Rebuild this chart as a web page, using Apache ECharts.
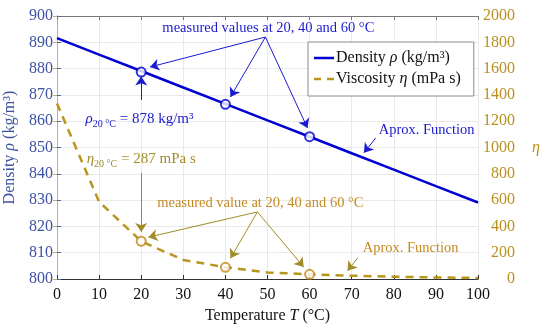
<!DOCTYPE html>
<html><head><meta charset="utf-8">
<script src="https://cdn.jsdelivr.net/npm/echarts@6/dist/echarts.min.js"></script>
<style>html,body{margin:0;padding:0;background:#fff}#c{width:550px;height:326px}</style>
</head><body><div id="c"></div>
<script>
const temps = [0, 10, 20, 30, 40, 50, 60, 70, 80, 90, 100];
const density = [891.6, 885.3, 879.1, 872.8, 866.6, 860.3, 854.1, 847.8, 841.6, 835.3, 829.1];
const viscosity = [1335, 587, 287, 145, 89, 50, 36, 25, 17, 12, 8];
const measuredT = [20, 40, 60];
const measuredDensity = [878.7, 866.4, 854.1];
const measuredViscosity = [287, 89, 36];
const xTicks = [0, 100, 10];
const densTicks = [800, 900, 10];
const viscTicks = [0, 2000, 200];

const FONT = '"Liberation Serif", "DejaVu Serif", serif';
const BLUE = '#0000d2';
const GOLD = '#b8961e';
const GOLDTXT = '#c58a22';
const GOLDDARK = '#a08c28';
const AXBLUE = '#3d52a3';
const AXGOLD = '#b8901e';

const chart = echarts.init(document.getElementById('c'));
const richBase = (col) => ({
  n: {fontFamily: FONT, fontSize: 15, color: col},
  i: {fontFamily: FONT, fontSize: 15, fontStyle: 'italic', color: col},
  s: {fontFamily: FONT, fontSize: 10, color: col, padding: [11, 0, 0, 0]}
});
function txt(coord, text, col, rich) {
  return {coord: coord, value: 0, symbol: 'circle', symbolSize: 1,
    itemStyle: {color: 'rgba(0,0,0,0)'},
    label: {show: true, position: 'inside', formatter: text, color: col,
      fontFamily: FONT, fontSize: 14.5, rich: rich || richBase(col)}};
}
function arrow(a, b) { return [{coord: a}, {coord: b}]; }

chart.setOption({
  animation: false,
  backgroundColor: '#fff',
  grid: {left: 57, right: 72, top: 16, bottom: 47, containLabel: false, outerBoundsMode: 'none'},
  legend: {
    data: [
      {name: 'Density', icon: 'path://M0,0H20V2.5H0Z', itemStyle: {color: BLUE}},
      {name: 'Viscosity', icon: 'path://M0,0H7V2.5H0Z M13,0H20V2.5H13Z', itemStyle: {color: GOLD}}
    ],
    orient: 'vertical', left: 308, top: 42,
    backgroundColor: '#fff', borderColor: '#8a8a8a', borderWidth: 1,
    padding: [8, 13, 9, 6], itemGap: 5, itemWidth: 20, itemHeight: 2.5,
    formatter: function (n) {
      return n === 'Density' ? '{n|Density }{i|ρ}{n| (kg/m³)}' : '{n|Viscosity }{i|η}{n| (mPa s)}';
    },
    textStyle: {fontFamily: FONT, fontSize: 16, color: '#111', padding: [0, 0, 0, -3],
      rich: {n: {fontFamily: FONT, fontSize: 16, color: '#111'},
             i: {fontFamily: FONT, fontSize: 16, fontStyle: 'italic', color: '#111'}}}
  },
  xAxis: [{
    type: 'value', min: xTicks[0], max: xTicks[1], interval: xTicks[2],
    name: '{n|Temperature }{i|T}{n| (°C)}', nameLocation: 'middle', nameGap: 29,
    nameTextStyle: {rich: {n: {fontFamily: FONT, fontSize: 16, color: '#111'}, i: {fontFamily: FONT, fontSize: 16, fontStyle: 'italic', color: '#111'}}},
    axisLine: {lineStyle: {color: '#333', width: 1}},
    axisTick: {inside: true, length: 4, lineStyle: {color: '#333'}},
    axisLabel: {fontFamily: FONT, fontSize: 16, color: '#111', margin: 8},
    splitLine: {show: true, lineStyle: {color: '#e9e9e9', width: 1}}
  }, {
    type: 'value', position: 'top', min: xTicks[0], max: xTicks[1], interval: xTicks[2],
    axisLine: {show: true, lineStyle: {color: '#777', width: 1}},
    axisTick: {show: true, inside: true, length: 4, lineStyle: {color: '#777'}},
    axisLabel: {show: false}, splitLine: {show: false}
  }],
  yAxis: [{
    type: 'value', min: densTicks[0], max: densTicks[1], interval: densTicks[2],
    name: '{n|Density }{i|ρ}{n| (kg/m³)}', nameLocation: 'middle', nameGap: 34, nameRotate: 90,
    nameTextStyle: {rich: {n: {fontFamily: FONT, fontSize: 16, color: AXBLUE}, i: {fontFamily: FONT, fontSize: 16, fontStyle: 'italic', color: AXBLUE}}},
    axisLine: {show: true, lineStyle: {color: '#5566b0', width: 1}},
    axisTick: {show: true, inside: true, length: 4, lineStyle: {color: '#5566b0'}},
    axisLabel: {fontFamily: FONT, fontSize: 16, color: AXBLUE, margin: 4},
    splitLine: {show: true, lineStyle: {color: '#e9e9e9', width: 1}}
  }, {
    type: 'value', min: viscTicks[0], max: viscTicks[1], interval: viscTicks[2],
    name: 'η', nameLocation: 'middle', nameGap: 54, nameRotate: 0,
    nameTextStyle: {fontFamily: FONT, fontSize: 16, fontStyle: 'italic', color: AXGOLD},
    axisLine: {show: true, lineStyle: {color: '#c8b070', width: 1}},
    axisTick: {show: true, inside: true, length: 4, lineStyle: {color: '#c8b070'}},
    axisLabel: {fontFamily: FONT, fontSize: 16, color: AXGOLD, margin: 37, align: 'right',
      formatter: function (v) { return String(v); }},
    splitLine: {show: false}
  }],
  series: [{
    name: 'Density', type: 'line', yAxisIndex: 0, showSymbol: false, symbol: 'none',
    data: temps.map((t, i) => [t, density[i]]),
    lineStyle: {color: BLUE, width: 2.5}, itemStyle: {color: BLUE}, z: 3,
    markLine: {
      silent: true, symbol: ['none', 'arrow'], symbolSize: 9,
      lineStyle: {color: '#1a1ad0', width: 1, type: 'solid'}, label: {show: false},
      data: [
        arrow([49.5, 892.0], [22.1, 880.6]),
        arrow([49.5, 892.0], [41.2, 869.2]),
        arrow([49.5, 892.0], [59.5, 857.4]),
        arrow([20, 868.1], [20, 877.0]),
        arrow([75.7, 853.6], [72.9, 848.0])
      ]
    },
    markPoint: {
      silent: true,
      data: [
        txt([50.2, 895.4], 'measured values at 20, 40 and 60 °C', '#1a1ad0'),
        txt([19.6, 861.0], '{i|ρ}{s|20 °C}{n| = 878 kg/m³}', '#1a1ad0'),
        txt([87.8, 856.6], 'Aprox. Function', '#1a1ad0')
      ]
    }
  }, {
    name: 'Viscosity', type: 'line', yAxisIndex: 1, showSymbol: false, symbol: 'none',
    data: temps.map((t, i) => [t, viscosity[i]]),
    lineStyle: {color: GOLD, width: 2.5, type: [8, 6]}, itemStyle: {color: GOLD}, z: 2,
    markLine: {
      silent: true, symbol: ['none', 'arrow'], symbolSize: 9,
      lineStyle: {color: GOLDDARK, width: 1, type: 'solid'}, label: {show: false},
      data: [
        arrow([47.6, 510], [21.7, 318]),
        arrow([47.6, 510], [41.2, 157]),
        arrow([47.6, 510], [58.6, 91]),
        arrow([20, 806], [20, 357]),
        arrow([71.4, 160], [69.0, 62])
      ]
    },
    markPoint: {
      silent: true,
      data: [
        txt([20.0, 912], '{i|η}{s|20 °C}{n| = 287 mPa s}', GOLDDARK),
        txt([48.3, 577], 'measured value at 20, 40 and 60 °C', GOLDTXT),
        txt([84.0, 236], 'Aprox. Function', GOLDTXT)
      ]
    }
  }, {
    name: 'DensityMeasured', type: 'scatter', yAxisIndex: 0, symbol: 'circle', symbolSize: 9,
    data: measuredT.map((t, i) => [t, measuredDensity[i]]),
    itemStyle: {color: '#fff', borderColor: BLUE, borderWidth: 2}, z: 5
  }, {
    name: 'ViscosityMeasured', type: 'scatter', yAxisIndex: 1, symbol: 'circle', symbolSize: 9,
    data: measuredT.map((t, i) => [t, measuredViscosity[i]]),
    itemStyle: {color: '#fff', borderColor: '#c08a1a', borderWidth: 2}, z: 5
  }]
});
</script></body></html>
